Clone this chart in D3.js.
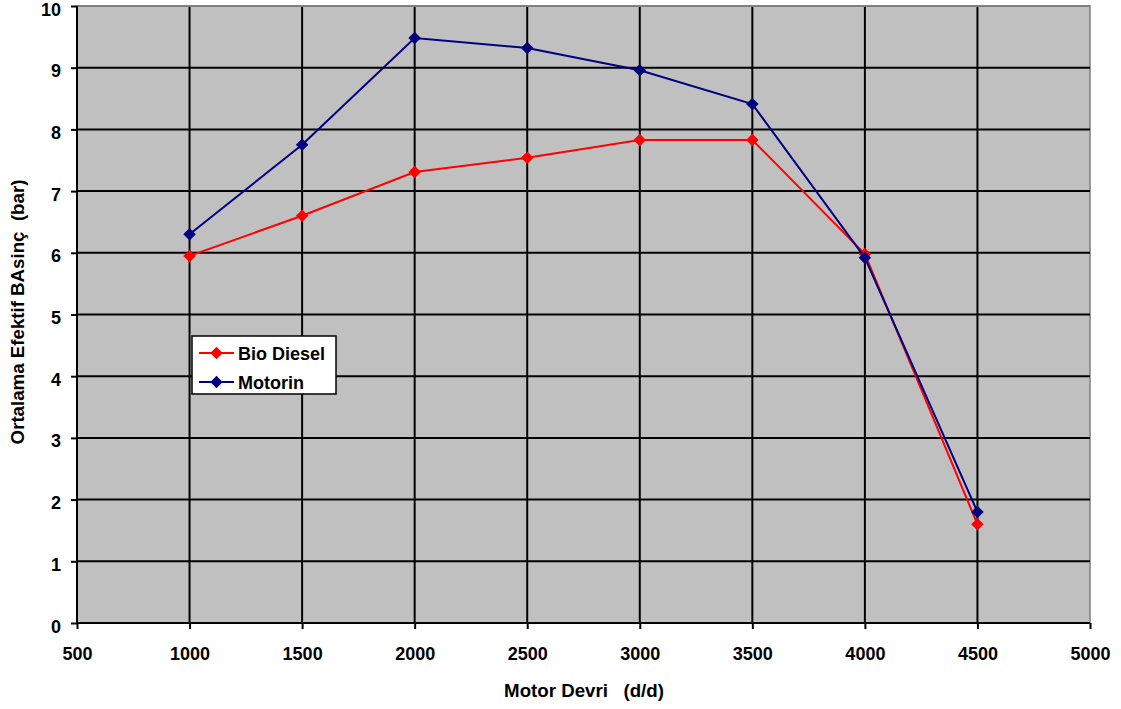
<!DOCTYPE html>
<html>
<head>
<meta charset="utf-8">
<script src="https://cdn.jsdelivr.net/npm/d3@7"></script>
<style>
  html, body { margin: 0; padding: 0; background: #fff; }
  svg text { font-family: "Liberation Sans", Arial, sans-serif; font-weight: bold; fill: #000; white-space: pre; }
</style>
</head>
<body>
<svg id="chart" width="1121" height="709"></svg>
<script>
// Engine speed (rpm) and mean effective pressure (bar) for the two fuels
const speeds = [1000, 1500, 2000, 2500, 3000, 3500, 4000, 4500];
const bioDiesel = [5.95, 6.60, 7.31, 7.54, 7.83, 7.83, 5.98, 1.60];
const motorin = [6.30, 7.75, 9.48, 9.32, 8.96, 8.41, 5.92, 1.80];
const xTicks = [500, 1000, 1500, 2000, 2500, 3000, 3500, 4000, 4500, 5000];
const yTicks = [0, 1, 2, 3, 4, 5, 6, 7, 8, 9, 10];
const seriesNames = ["Bio Diesel", "Motorin"];
const seriesColors = ["#ff0000", "#000080"];
const xTitle = "Motor Devri\u00a0\u00a0\u00a0(d/d)";
const yTitle = "Ortalama Efektif BAsinç\u00a0\u00a0(bar)";

const svg = d3.select("#chart");
const plotLeft = 77, plotRight = 1090, plotTop = 6, plotBottom = 623;
const fontSize = "18px";
const titleSize = "18.7px";

const x = d3.scaleLinear().domain([500, 5000]).range([plotLeft, plotRight]);
const y = d3.scaleLinear().domain([0, 10]).range([plotBottom, plotTop]);

// plot background
svg.append("rect")
  .attr("x", plotLeft).attr("y", plotTop)
  .attr("width", plotRight - plotLeft).attr("height", plotBottom - plotTop)
  .attr("fill", "#c0c0c0")
  .attr("stroke", "#808080").attr("stroke-width", 1.5);

// gridlines
svg.append("g").selectAll("line").data(yTicks.filter(d => d > 0 && d < 10)).join("line")
  .attr("x1", plotLeft).attr("x2", plotRight)
  .attr("y1", d => y(d)).attr("y2", d => y(d))
  .attr("stroke", "#000").attr("stroke-width", 2);
svg.append("g").selectAll("line").data(xTicks.filter(d => d > 500 && d < 5000)).join("line")
  .attr("y1", plotTop).attr("y2", plotBottom)
  .attr("x1", d => x(d)).attr("x2", d => x(d))
  .attr("stroke", "#000").attr("stroke-width", 2);
// top edge of the plot frame
svg.append("line").attr("x1", plotLeft).attr("x2", plotRight)
  .attr("y1", y(10)).attr("y2", y(10)).attr("stroke", "#808080").attr("stroke-width", 2);

// axes
const xAxis = d3.axisBottom(x).tickValues(xTicks).tickFormat(d3.format("d")).tickSize(6).tickPadding(18);
const yAxis = d3.axisLeft(y).tickValues(yTicks).tickFormat(d3.format("d")).tickSize(6).tickPadding(10);

const gx = svg.append("g").attr("transform", `translate(0,${plotBottom})`).call(xAxis);
const gy = svg.append("g").attr("transform", `translate(${plotLeft},0)`).call(yAxis);
[gx, gy].forEach(g => {
  g.select(".domain").attr("stroke", "#000").attr("stroke-width", 2);
  g.selectAll(".tick line").attr("stroke", "#000").attr("stroke-width", 2);
  g.selectAll(".tick text").style("font-size", fontSize)
    .style("font-family", '"Liberation Sans", Arial, sans-serif').style("font-weight", "bold");
});
gx.select(".domain").attr("d", `M${plotLeft},0H${plotRight}`);
gy.select(".domain").attr("d", `M0,${plotTop}V${plotBottom}`);
gy.selectAll(".tick text").attr("dy", "0.5em");

// series
const series = [bioDiesel, motorin];
const line = d3.line().x((d, i) => x(speeds[i])).y(d => y(d));
const diamond = d3.symbol().type(d3.symbolDiamond2).size(100);

series.forEach((vals, si) => {
  svg.append("path").datum(vals)
    .attr("d", line).attr("fill", "none")
    .attr("stroke", seriesColors[si]).attr("stroke-width", 2);
  svg.append("g").selectAll("path").data(vals).join("path")
    .attr("d", diamond)
    .attr("transform", (d, i) => `translate(${x(speeds[i])},${y(d)})`)
    .attr("fill", seriesColors[si]);
});

// legend
const lg = svg.append("g").attr("transform", "translate(192,336)");
lg.append("rect").attr("width", 144).attr("height", 58)
  .attr("fill", "#fff").attr("stroke", "#000").attr("stroke-width", 1.5);
seriesNames.forEach((name, i) => {
  const cy = 17 + i * 29;
  lg.append("line").attr("x1", 7).attr("x2", 42).attr("y1", cy).attr("y2", cy)
    .attr("stroke", seriesColors[i]).attr("stroke-width", 2);
  lg.append("path").attr("d", diamond).attr("transform", `translate(24.5,${cy})`)
    .attr("fill", seriesColors[i]);
  lg.append("text").attr("x", 46).attr("y", cy + 6.5)
    .style("font-size", fontSize).text(name);
});

// axis titles
svg.append("text").attr("x", 584).attr("y", 697)
  .attr("text-anchor", "middle").style("font-size", titleSize)
  .text(xTitle);
svg.append("text")
  .attr("transform", "translate(24,312) rotate(-90)")
  .attr("text-anchor", "middle").style("font-size", titleSize)
  .text(yTitle);
</script>
</body>
</html>
